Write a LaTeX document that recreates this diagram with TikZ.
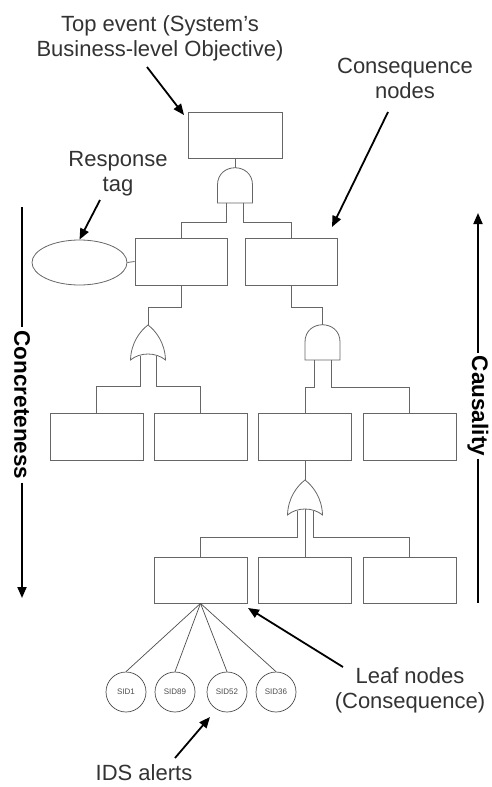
\documentclass[tikz,border=0pt]{standalone}
\usepackage{fontspec}
\setmainfont{Liberation Sans}
\usetikzlibrary{arrows.meta,shapes.geometric}
\tikzset{
  x=1pt,y=-1pt,
  boxn/.style={draw=black!60,line width=0.8pt,minimum width=93pt,minimum height=46pt,inner sep=0pt},
  conn/.style={draw=black!60,line width=0.8pt},
  gate/.style={draw=black!60,line width=0.8pt},
  lbl/.style={font=\fontsize{22}{25}\selectfont,text=black!80,align=center,inner sep=0pt},
  side/.style={font=\bfseries\fontsize{22.5}{25}\selectfont,rotate=-90,inner sep=3pt},
  arr/.style={draw=black,line width=1.8pt,-{Triangle[length=11pt,width=9pt]}},
  bar/.style={draw=black,line width=1.8pt},
  sid/.style={draw=black!70,circle,line width=0.7pt,minimum size=40pt,inner sep=0pt,font=\fontsize{8}{9}\selectfont,text=black!70},
  andgate/.pic={
    \draw[gate] (-17.5,35) -- (-17.5,17) .. controls (-17.5,-6) and (17.5,-6) .. (17.5,17) -- (17.5,35) -- cycle;
    \coordinate (-top) at (0,0);
    \coordinate (-l) at (-8.5,35);
    \coordinate (-r) at (8.5,35);
  },
  orgate/.pic={
    \draw[gate] (-17.5,35) .. controls (-17,18) and (-8,6) .. (0,0) .. controls (8,6) and (17,18) .. (17.5,35)
       .. controls (8,27) and (-8,27) .. cycle;
    \coordinate (-top) at (0,0);
    \coordinate (-l) at (-8,31);
    \coordinate (-m) at (0,29);
    \coordinate (-r) at (8,31);
  }
}
\begin{document}
\begin{tikzpicture}
\useasboundingbox (0,0) rectangle (491,787);
% boxes
\node[boxn,minimum width=94pt] (top) at (235,135) {};
\node[boxn,minimum width=92pt,minimum height=47pt] (b2a) at (181,261.5) {};
\node[boxn,minimum width=92pt,minimum height=47pt] (b2b) at (291,261.5) {};
\node[boxn,minimum height=47pt] (b3a) at (96.5,436.5) {};
\node[boxn,minimum height=47pt] (b3b) at (200.5,436.5) {};
\node[boxn,minimum height=47pt] (b3c) at (305,436.5) {};
\node[boxn,minimum height=47pt] (b3d) at (409.5,436.5) {};
\node[boxn] (b4a) at (200.5,580) {};
\node[boxn] (b4b) at (305,580) {};
\node[boxn] (b4c) at (409.5,580) {};
\node[draw=black!60,line width=0.8pt,ellipse,minimum width=95pt,minimum height=45pt,inner sep=0pt] (tag) at (79.5,262.5) {};
% SID circles
\node[sid] (s1) at (126,692) {SID1};
\node[sid] (s2) at (175,692) {SID89};
\node[sid] (s3) at (227,692) {SID52};
\node[sid] (s4) at (276,692) {SID36};
% gates
\pic (g1) at (235,168) {andgate};
\pic (g2) at (148,325) {orgate};
\pic (g3) at (322.5,325) {andgate};
\pic (g4) at (305,480) {orgate};
% connectors
\draw[conn] (top.south) -- (g1-top);
\draw[conn] (g1-l) -- ++(0,19) -| (b2a.north);
\draw[conn] (g1-r) -- ++(0,19) -| (b2b.north);
\draw[conn] (b2a.south) -- ++(0,22) -| (g2-top);
\draw[conn] (b2b.south) -- ++(0,22) -| (g3-top);
\draw[conn] (g2-l) -- ++(0,30) -| (b3a.north);
\draw[conn] (g2-r) -- ++(0,30) -| (b3b.north);
\draw[conn] (g3-l) -- ++(0,27) -| (b3c.north);
\draw[conn] (g3-r) -- ++(0,27) -| (b3d.north);
\draw[conn] (b3c.south) -- (g4-top);
\draw[conn] (g4-l) -- ++(0,26) -| (b4a.north);
\draw[conn] (g4-m) -- (b4b.north);
\draw[conn] (g4-r) -- ++(0,26) -| (b4c.north);
\draw[conn] (tag.east) -- (b2a.west);
\foreach \s in {s1,s2,s3,s4} \draw[draw=black!70,line width=0.7pt] (b4a.south) -- (\s.north);
% labels
\node[lbl] (ttop) at (160,38) {Top event (System's\\Business-level Objective)};
\node[lbl] (tcons) at (405,78) {Consequence\\nodes};
\node[lbl] (tresp) at (118,174) {Response\\tag};
\node[lbl] (tleaf) at (410,690) {Leaf nodes\\(Consequence)};
\node[lbl] (tids) at (144,773) {IDS alerts};
% pointer arrows
\coordinate (p1) at (147,67);
\coordinate (q1) at (184,115);
\draw[arr] (p1) -- (q1);
\coordinate (p2) at (388,112);
\coordinate (q2) at (332,227);
\draw[arr] (p2) -- (q2);
\coordinate (p3) at (100,200);
\draw[arr] (p3) -- (tag.north);
\coordinate (p4) at (343,667);
\coordinate (q4) at (248,608);
\draw[arr] (p4) -- (q4);
\coordinate (p5) at (175,758);
\coordinate (q5) at (210,717);
\draw[arr] (p5) -- (q5);
% side arrows
\node[side] (concr) at (22,405) {Concreteness};
\coordinate (cl1) at (22,207);
\coordinate (cl2) at (22,598);
\draw[bar] (cl1) -- (concr.west);
\draw[arr] (concr.east) -- (cl2);
\node[side] (caus) at (478,406) {Causality};
\coordinate (cr1) at (478,213);
\coordinate (cr2) at (478,603);
\draw[arr] (caus.west) -- (cr1);
\draw[bar] (caus.east) -- (cr2);
\end{tikzpicture}
\end{document}
